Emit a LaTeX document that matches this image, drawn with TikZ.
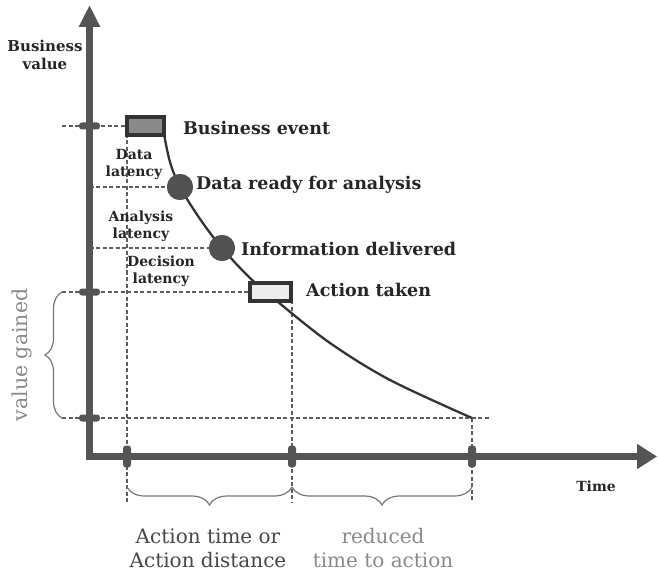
\documentclass[tikz,border=0pt]{standalone}
\usepackage{fontspec}
\setmainfont{DejaVu Serif}
\usetikzlibrary{arrows.meta,decorations.pathreplacing}
\definecolor{axisc}{HTML}{555555}
\definecolor{guidec}{HTML}{5E5E5E}
\definecolor{curvec}{HTML}{333333}
\definecolor{txtc}{HTML}{262626}
\definecolor{lightc}{HTML}{8A8A8A}
\definecolor{bracec}{HTML}{777777}
\tikzset{
  axisline/.style={draw=axisc, line width=7pt, line join=miter,
    {Triangle[width=20pt,length=22pt]}-{Triangle[width=24pt,length=20pt]}},
  ytick/.style={fill=axisc, minimum width=21pt, minimum height=7pt, inner sep=0pt, rounded corners=3pt},
  xtick/.style={fill=axisc, minimum width=8pt, minimum height=22pt, inner sep=0pt, rounded corners=3pt},
  guide/.style={draw=guidec, line width=1.2pt, dash pattern=on 4pt off 2.5pt},
  curveline/.style={draw=curvec, line width=2.3pt},
  evbox/.style={draw=curvec, line width=3.5pt, minimum width=37pt, minimum height=18pt, inner sep=0pt},
  dot/.style={circle, fill=axisc!95!black, minimum size=26pt, inner sep=0pt},
  biglabel/.style={text=txtc, font=\fontsize{17.5}{20}\selectfont\bfseries, inner sep=0pt},
  smalllabel/.style={text=txtc, font=\fontsize{14}{17}\selectfont\bfseries, align=center, inner sep=0pt},
  bracestyle/.style={draw=bracec, line width=1.2pt, decorate},
  bottomtext/.style={font=\fontsize{20}{24}\selectfont, align=center, inner sep=0pt}
}
\begin{document}
\begin{tikzpicture}[x=1pt,y=-1pt]
\useasboundingbox (0,0) rectangle (658,577);
% key coordinates
\coordinate (ytop) at (89.5,5);
\coordinate (origin) at (89.5,456.5);
\coordinate (xend) at (657,456.5);
\coordinate (gA) at (62,126);
\coordinate (gB) at (89.5,187);
\coordinate (gC) at (89.5,248);
\coordinate (gD) at (62,292);
\coordinate (gE) at (62,418);
\coordinate (gEend) at (490,418);
\coordinate (v1t) at (127,134);
\coordinate (v1b) at (127,502);
\coordinate (v2t) at (292,300);
\coordinate (v2b) at (292,502);
\coordinate (v3t) at (472,418);
\coordinate (v3b) at (472,502);
% nodes (placed first, redrawn on top later)
\node[evbox, fill=lightc] (be) at (145.5,126) {};
\node[evbox, minimum width=41pt, fill=black!7] (at) at (270.5,292) {};
\node[dot] (dr) at (180,187) {};
\node[dot] (id) at (222,248) {};
% guides
\draw[guide] (gA) -- (be.west);
\draw[guide] (gB) -- (dr.west);
\draw[guide] (gC) -- (id.west);
\draw[guide] (gD) -- (at.west);
\draw[guide] (gE) -- (gEend);
\draw[guide] (v1t) -- (v1b);
\draw[guide] (v2t) -- (v2b);
\draw[guide] (v3t) -- (v3b);
% axes
\draw[axisline] (ytop) -- (origin) -- (xend);
% ticks
\node[ytick] (t1) at (89.5,126) {};
\node[ytick] (t2) at (89.5,292) {};
\node[ytick] (t3) at (89.5,418) {};
\node[xtick] (t4) at (127,456.5) {};
\node[xtick] (t5) at (292,456.5) {};
\node[xtick] (t6) at (472,456.5) {};
% curve
\draw[curveline] plot[smooth, tension=0.55] coordinates
  {(164,134) (170,162) (180,187) (200,219) (222,248) (250,278) (278,302) (330,343) (390,380) (472,418)};
% redraw nodes on top
\node[evbox, fill=lightc] at (be) {};
\node[evbox, minimum width=41pt, fill=black!7] at (at) {};
\node[dot] at (dr) {};
\node[dot] at (id) {};
% braces
\draw[bracestyle, decoration={brace, amplitude=17pt, aspect=0.5}] (62,418) -- (62,292);
\draw[bracestyle, decoration={brace, mirror, amplitude=18pt}] (127,487) -- (292,487);
\draw[bracestyle, decoration={brace, mirror, amplitude=18pt}] (292,487) -- (472,487);
% labels
\node[biglabel, anchor=base west] (lbe) at (183,135) {Business event};
\node[biglabel, anchor=base west] (ldr) at (196,190) {Data ready for analysis};
\node[biglabel, anchor=base west] (lid) at (241,255) {Information delivered};
\node[biglabel, anchor=base west] (lat) at (306,296) {Action taken};
\node[smalllabel] (ldl) at (134,164) {Data\\latency};
\node[smalllabel] (lal) at (141,226) {Analysis\\latency};
\node[smalllabel] (ldc) at (161,271) {Decision\\latency};
\node[smalllabel, font=\fontsize{15}{18}\selectfont\bfseries] (lbv) at (45,55) {Business\\value};
\node[smalllabel, anchor=base] (ltime) at (596,491) {Time};
\node[font=\fontsize{20.5}{24}\selectfont, text=lightc, rotate=90, inner sep=0pt] (lvg) at (22,355) {value gained};
\node[bottomtext, text=txtc!85] (lact) at (208,548) {Action time or\\Action distance};
\node[bottomtext, text=lightc] (lred) at (383,548) {reduced\\time to action};
\end{tikzpicture}
\end{document}
